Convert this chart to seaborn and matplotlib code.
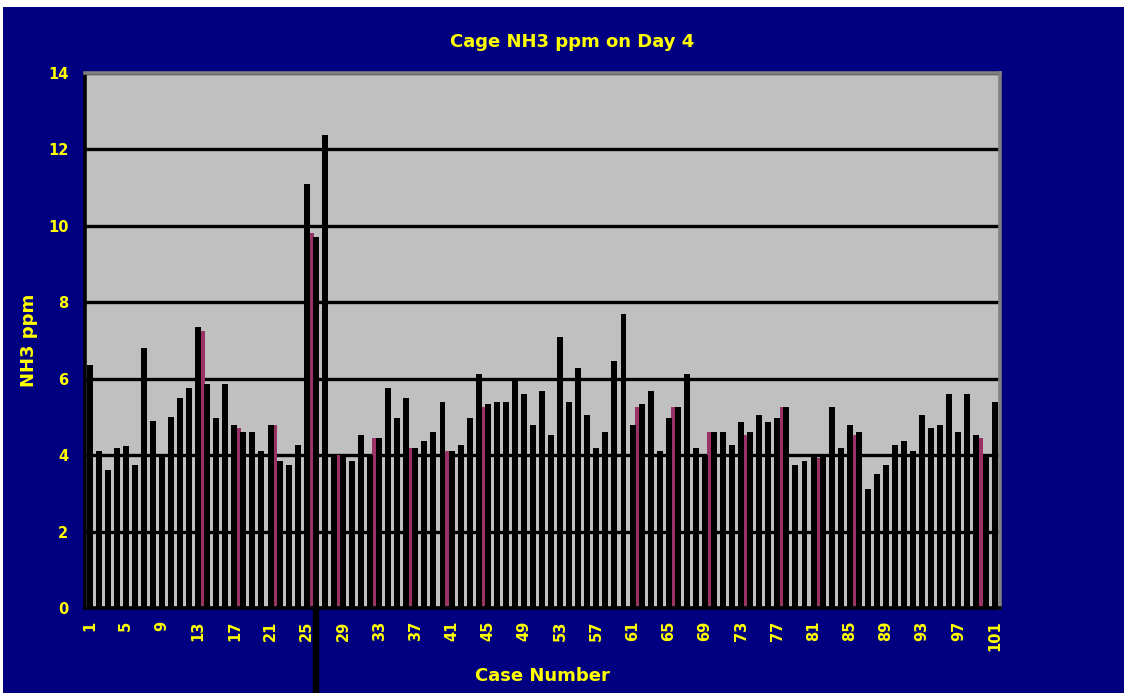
import matplotlib
matplotlib.use("Agg")
import matplotlib.pyplot as plt
import seaborn as sns
import pandas as pd
from matplotlib.patches import Rectangle

# ---- data ----
cases = list(range(1, 102))
nh3_ppm = [
    6.35, 4.10, 3.60, 4.20, 4.25, 3.75, 6.80, 4.90, 4.00, 5.00,
    5.50, 5.75, 7.35, 5.86, 4.98, 5.86, 4.80, 4.61, 4.61, 4.10,
    4.80, 3.84, 3.73, 4.27, 11.10, 9.72, 12.38, 4.00, 4.00, 3.84,
    4.53, 4.00, 4.45, 5.75, 4.98, 5.49, 4.19, 4.37, 4.61, 5.40,
    4.10, 4.27, 4.98, 6.12, 5.33, 5.40, 5.40, 6.02, 5.59, 4.80,
    5.67, 4.53, 7.08, 5.40, 6.28, 5.06, 4.19, 4.61, 6.47, 7.69,
    4.80, 5.33, 5.67, 4.10, 4.98, 5.25, 6.12, 4.19, 4.00, 4.61,
    4.61, 4.27, 4.88, 4.61, 5.06, 4.88, 4.98, 5.25, 3.73, 3.84,
    4.00, 4.00, 5.25, 4.19, 4.80, 4.61, 3.12, 3.50, 3.73, 4.27,
    4.37, 4.10, 5.06, 4.72, 4.80, 5.59, 4.61, 5.59, 4.53, 4.00,
    5.40,
]
# maroon strips visible in the gap after these cases
maroon_after = [13, 17, 21, 25, 28, 32, 36, 40, 44, 61, 65, 69, 73, 77, 81, 85, 99]
maroon_vals = [7.25, 4.72, 4.80, 9.80, 4.00, 4.45, 4.19, 4.10, 5.25, 5.25, 5.25,
               4.61, 4.53, 5.25, 3.92, 4.53, 4.45]
label_cases = list(range(1, 102, 4))
y_ticks = [0, 2, 4, 6, 8, 10, 12, 14]
artifact_case = 26

NAVY = "#000080"
YELLOW = "#FFFF00"
PLOT_BG = "#C0C0C0"
MAROON = "#993366"

sns.set_style("white")
plt.rcParams["font.family"] = ["DejaVu Sans"]

df = pd.DataFrame({"case": [str(c) for c in cases], "ppm": nh3_ppm})

fig = plt.figure(figsize=(11.24, 6.93), dpi=100)
fig.patch.set_facecolor(NAVY)
# thin white frame on top and left
fig.patches.append(Rectangle((0, 1 - 7 / 693), 1, 7 / 693, transform=fig.transFigure,
                             facecolor="white", edgecolor="none", zorder=0))
fig.patches.append(Rectangle((0, 0), 3 / 1124, 1, transform=fig.transFigure,
                             facecolor="white", edgecolor="none", zorder=0))

ax = fig.add_axes([85 / 1124, (693 - 608) / 693, (1000 - 85) / 1124, (608 - 73) / 693])
ax.set_facecolor(PLOT_BG)

# maroon strips (behind the black bars)
mx = [cases.index(c) + 0.5 for c in maroon_after]
ax.bar(mx, maroon_vals, width=0.5, color=MAROON, edgecolor="none", zorder=2)

sns.barplot(data=df, x="case", y="ppm", color="black", width=0.66,
            saturation=1, edgecolor="none", ax=ax, zorder=3)
for p in ax.patches:
    if p.get_facecolor()[:3] == (0, 0, 0):
        p.set_zorder(3)

# artifact vertical black line below bar 26
ai = cases.index(artifact_case)
ax.plot([ai, ai], [0, -2.35], color="black", lw=4.6, clip_on=False,
        solid_capstyle="butt", zorder=5)

ax.set_xlim(-0.2, len(cases) - 0.4)
ax.set_ylim(0, 14)
ax.set_yticks(y_ticks)
ax.set_yticklabels([str(v) for v in y_ticks])
ax.yaxis.grid(True, color="black", lw=2.4)
ax.set_axisbelow(True)
for line in ax.get_ygridlines():
    line.set_zorder(1)

ax.set_xticks([cases.index(c) for c in label_cases])
ax.set_xticklabels([str(c) for c in label_cases], rotation=90)
ax.set_xticks([i + 0.5 for i in range(-1, len(cases))], minor=True)
ax.tick_params(axis="x", which="major", length=0, pad=9, labelsize=10.5,
               labelcolor=YELLOW)
ax.tick_params(axis="x", which="minor", length=5, width=2.2, color="black",
               direction="out")
ax.tick_params(axis="y", which="major", length=7, width=2.2, color="black",
               labelsize=10.5, labelcolor=YELLOW, pad=5)
for lab in ax.get_xticklabels() + ax.get_yticklabels():
    lab.set_fontweight("bold")

for s in ["left", "bottom"]:
    ax.spines[s].set_color("black")
    ax.spines[s].set_linewidth(2.6)
for s in ["top", "right"]:
    ax.spines[s].set_color("#808080")
    ax.spines[s].set_linewidth(2.6)
    ax.spines[s].set_visible(True)

ax.set_xlabel("Case Number", color=YELLOW, fontsize=13, fontweight="bold", labelpad=11)
ax.set_ylabel("NH3 ppm", color=YELLOW, fontsize=13, fontweight="bold", labelpad=7)
fig.text(572 / 1124, 1 - 42 / 693, "Cage NH3 ppm on Day 4", color=YELLOW,
         fontsize=13, fontweight="bold", ha="center", va="center")

fig.savefig("out.png", dpi=100, facecolor=fig.get_facecolor())
